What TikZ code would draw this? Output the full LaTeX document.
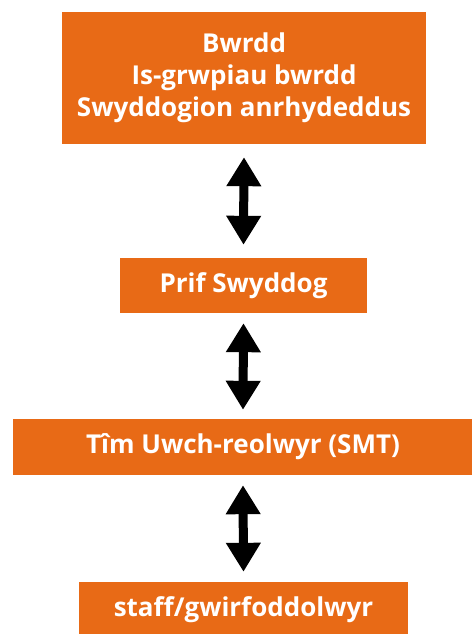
\documentclass[tikz,border=0pt]{standalone}
\usepackage{fontspec}
\setmainfont{Open Sans}
\usetikzlibrary{arrows.meta}
\definecolor{orgorange}{HTML}{E86A16}
\begin{document}
\begin{tikzpicture}[x=1pt,y=-1pt,
    level/.style={fill=orgorange, text=white, font=\bfseries\fontsize{26}{32}\selectfont,
                  inner sep=0pt, align=center},
    link/.style={line width=9pt, {Triangle[width=33pt,length=29pt]}-{Triangle[width=33pt,length=29pt]}}]
            \useasboundingbox (0,0) rectangle (471,634);
            \node[level, minimum width=364pt, minimum height=132pt] (board) at (244,78)
                {Bwrdd\\Is-grwpiau bwrdd\\Swyddogion anrhydeddus};
            \node[level, minimum width=247pt, minimum height=55pt] (chief) at (243.5,285.5) {Prif Swyddog};
            \node[level, minimum width=460pt, minimum height=56pt] (smt) at (243,447) {Tîm Uwch-reolwyr (SMT)};
            \node[level, minimum width=329pt, minimum height=55pt] (staff) at (243.5,609.5) {staff/gwirfoddolwyr};
            \draw[link] ([yshift=-13pt]board.south) -- ([yshift=13pt]chief.north);
            \draw[link] ([yshift=-10pt]chief.south) -- ([yshift=9pt]smt.north);
            \draw[link] ([yshift=-10pt]smt.south) -- ([yshift=10pt]staff.north);
        \end{tikzpicture}
\end{document}
